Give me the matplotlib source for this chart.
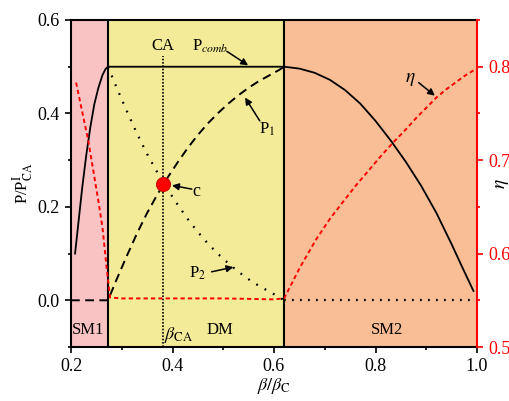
import matplotlib
matplotlib.use("Agg")
import matplotlib.pyplot as plt
from matplotlib.ticker import MultipleLocator

plt.rcParams['font.family'] = ['Liberation Serif', 'DejaVu Serif']
plt.rcParams['mathtext.fontset'] = 'stix'

# ---- data ----
region_bounds = [0.2, 0.273, 0.62, 1.0]
region_names = ["SM1", "DM", "SM2"]

pcomb_x = [0.208, 0.215, 0.222, 0.230, 0.238, 0.246, 0.254, 0.262, 0.268, 0.273,
           0.62, 0.65, 0.68, 0.71, 0.74, 0.77, 0.80, 0.83, 0.86, 0.89, 0.92, 0.95,
           0.97, 0.993]
pcomb_y = [0.10, 0.17, 0.24, 0.31, 0.37, 0.42, 0.455, 0.482, 0.495, 0.50,
           0.50, 0.496, 0.487, 0.472, 0.450, 0.421, 0.384, 0.342, 0.296, 0.245,
           0.187, 0.120, 0.073, 0.020]

p1_x = [0.2, 0.273, 0.29, 0.31, 0.33, 0.35, 0.37, 0.39, 0.41, 0.43, 0.45, 0.47,
        0.49, 0.51, 0.53, 0.55, 0.57, 0.59, 0.61, 0.62]
p1_y = [0.0, 0.0, 0.045, 0.095, 0.143, 0.187, 0.226, 0.262, 0.295, 0.326, 0.354,
        0.379, 0.401, 0.421, 0.439, 0.455, 0.469, 0.481, 0.493, 0.50]

p2_x = [0.273, 0.29, 0.31, 0.33, 0.35, 0.37, 0.39, 0.41, 0.43, 0.45, 0.47, 0.49,
        0.51, 0.53, 0.55, 0.57, 0.59, 0.61, 0.62]
p2_y = [0.50, 0.455, 0.405, 0.357, 0.313, 0.274, 0.238, 0.205, 0.174, 0.146,
        0.121, 0.099, 0.079, 0.061, 0.045, 0.031, 0.019, 0.007, 0.0]

zero_x = [0.62, 1.0]
zero_y = [0.0, 0.0]

eta_x = [0.21, 0.234, 0.254, 0.262, 0.270, 0.277, 0.30, 0.40, 0.50, 0.60, 0.62,
         0.635, 0.651, 0.668, 0.684, 0.71, 0.737, 0.76, 0.785, 0.81, 0.835, 0.86,
         0.88, 0.90, 0.92, 0.94, 0.96, 0.975, 0.993]
eta_y = [0.783, 0.721, 0.656, 0.628, 0.586, 0.553, 0.552, 0.552, 0.552, 0.551, 0.552,
         0.568, 0.585, 0.601, 0.616, 0.637, 0.656, 0.672, 0.688, 0.704, 0.719, 0.733,
         0.745, 0.756, 0.767, 0.776, 0.784, 0.790, 0.796]

beta_ca = 0.382
c_point = (0.382, 0.25)

x_ticks = [0.2, 0.4, 0.6, 0.8, 1.0]
y_ticks = [0.0, 0.2, 0.4, 0.6]
eta_ticks = [0.5, 0.6, 0.7, 0.8]

region_colors = ['#F9C3C3', '#F3EB97', '#F9BE96']

# ---- figure ----
fig = plt.figure(figsize=(5.10, 4.01), dpi=100)
ax = fig.add_axes([71/510, 54/401, (477-71)/510, (347-20)/401])
ax.set_xlim(0.2, 1.0)
ax.set_ylim(-0.1, 0.6)

for i in range(3):
    ax.axvspan(region_bounds[i], region_bounds[i+1], color=region_colors[i], lw=0, zorder=0)
for b in region_bounds[1:3]:
    ax.axvline(b, color='k', lw=1.5, zorder=3)

ax.plot(pcomb_x, pcomb_y, color='k', lw=1.3, zorder=4)
ax.plot(p1_x, p1_y, color='k', lw=1.4, ls=(0, (4.5, 2.8)), zorder=4)
ax.plot(p2_x, p2_y, color='k', lw=1.6, ls=(0, (0.8, 3.5)), zorder=4)
ax.plot(zero_x, zero_y, color='k', lw=1.6, ls=(0, (0.8, 2.8)), zorder=4)
ax.plot([beta_ca, beta_ca], [-0.1, 0.523], color='k', lw=1.2, ls=(0, (1, 1)), zorder=4)
ax.plot([c_point[0]], [c_point[1]], 'o', color='red', ms=10, mec='#cc0000', mew=0.8, zorder=6)

ax.set_xticks(x_ticks)
ax.set_yticks(y_ticks)
ax.xaxis.set_minor_locator(MultipleLocator(0.1))
ax.yaxis.set_minor_locator(MultipleLocator(0.1))
ax.tick_params(which='major', direction='out', length=4.5, width=1.2, labelsize=13)
ax.tick_params(which='minor', direction='out', length=2.5, width=1.2)
ax.tick_params(top=False, which='both')
for s in ax.spines.values():
    s.set_linewidth(1.5)
ax.spines['right'].set_visible(False)

ax.set_xlabel(r'$\beta/\beta_{\rm C}$', fontsize=13, labelpad=1)
ax.set_ylabel(r'P/P$^{\rm I}_{\rm CA}$', fontsize=12, labelpad=2)

# texts
ax.text(0.234, -0.063, region_names[0], ha='center', va='center', fontsize=12)
ax.text(0.494, -0.063, region_names[1], ha='center', va='center', fontsize=12)
ax.text(0.822, -0.063, region_names[2], ha='center', va='center', fontsize=12)
ax.text(0.411, -0.075, r'$\beta_{\rm CA}$', ha='center', va='center', fontsize=13)
ax.text(beta_ca, 0.545, 'CA', ha='center', va='center', fontsize=12)
ax.text(0.474, 0.543, r'P$_{comb}$', ha='center', va='center', fontsize=12)

arrow = dict(arrowstyle='-|>', color='k', lw=1.1, mutation_scale=10, shrinkA=0, shrinkB=0)
ax.annotate('', xy=(0.549, 0.503), xytext=(0.507, 0.533), arrowprops=arrow, zorder=7)
ax.annotate('', xy=(0.543, 0.434), xytext=(0.572, 0.384), arrowprops=arrow, zorder=7)
ax.text(0.586, 0.366, r'P$_1$', ha='center', va='center', fontsize=12)
ax.annotate('', xy=(0.399, 0.246), xytext=(0.438, 0.238), arrowprops=arrow, zorder=7)
ax.text(0.448, 0.232, 'c', ha='center', va='center', fontsize=13)
ax.annotate('', xy=(0.52, 0.071), xytext=(0.477, 0.061), arrowprops=arrow, zorder=7)
ax.text(0.45, 0.057, r'P$_2$', ha='center', va='center', fontsize=12)
ax.annotate('', xy=(0.917, 0.438), xytext=(0.885, 0.466), arrowprops=arrow, zorder=7)
ax.text(0.868, 0.472, r'$\eta$', ha='center', va='center', fontsize=14)

# twin axis for eta
ax2 = ax.twinx()
ax2.set_ylim(0.5, 0.85)
ax2.plot(eta_x, eta_y, color='red', lw=1.4, ls=(0, (2.2, 1.6)), zorder=5)
ax2.set_yticks(eta_ticks)
ax2.yaxis.set_minor_locator(MultipleLocator(0.05))
ax2.tick_params(which='major', direction='out', length=4.5, width=1.2, labelsize=13,
                colors='red')
ax2.tick_params(which='minor', direction='out', length=2.5, width=1.2, colors='red')
for k, s in ax2.spines.items():
    s.set_linewidth(1.5)
ax2.spines['right'].set_color('red')
ax2.spines['left'].set_visible(False)
ax2.spines['top'].set_visible(False)
ax2.spines['bottom'].set_visible(False)
ax2.set_ylabel(r'$\eta$', fontsize=14, color='k')
ax2.yaxis.set_label_coords(1.042, 0.5)

fig.savefig('out.png', dpi=100)
